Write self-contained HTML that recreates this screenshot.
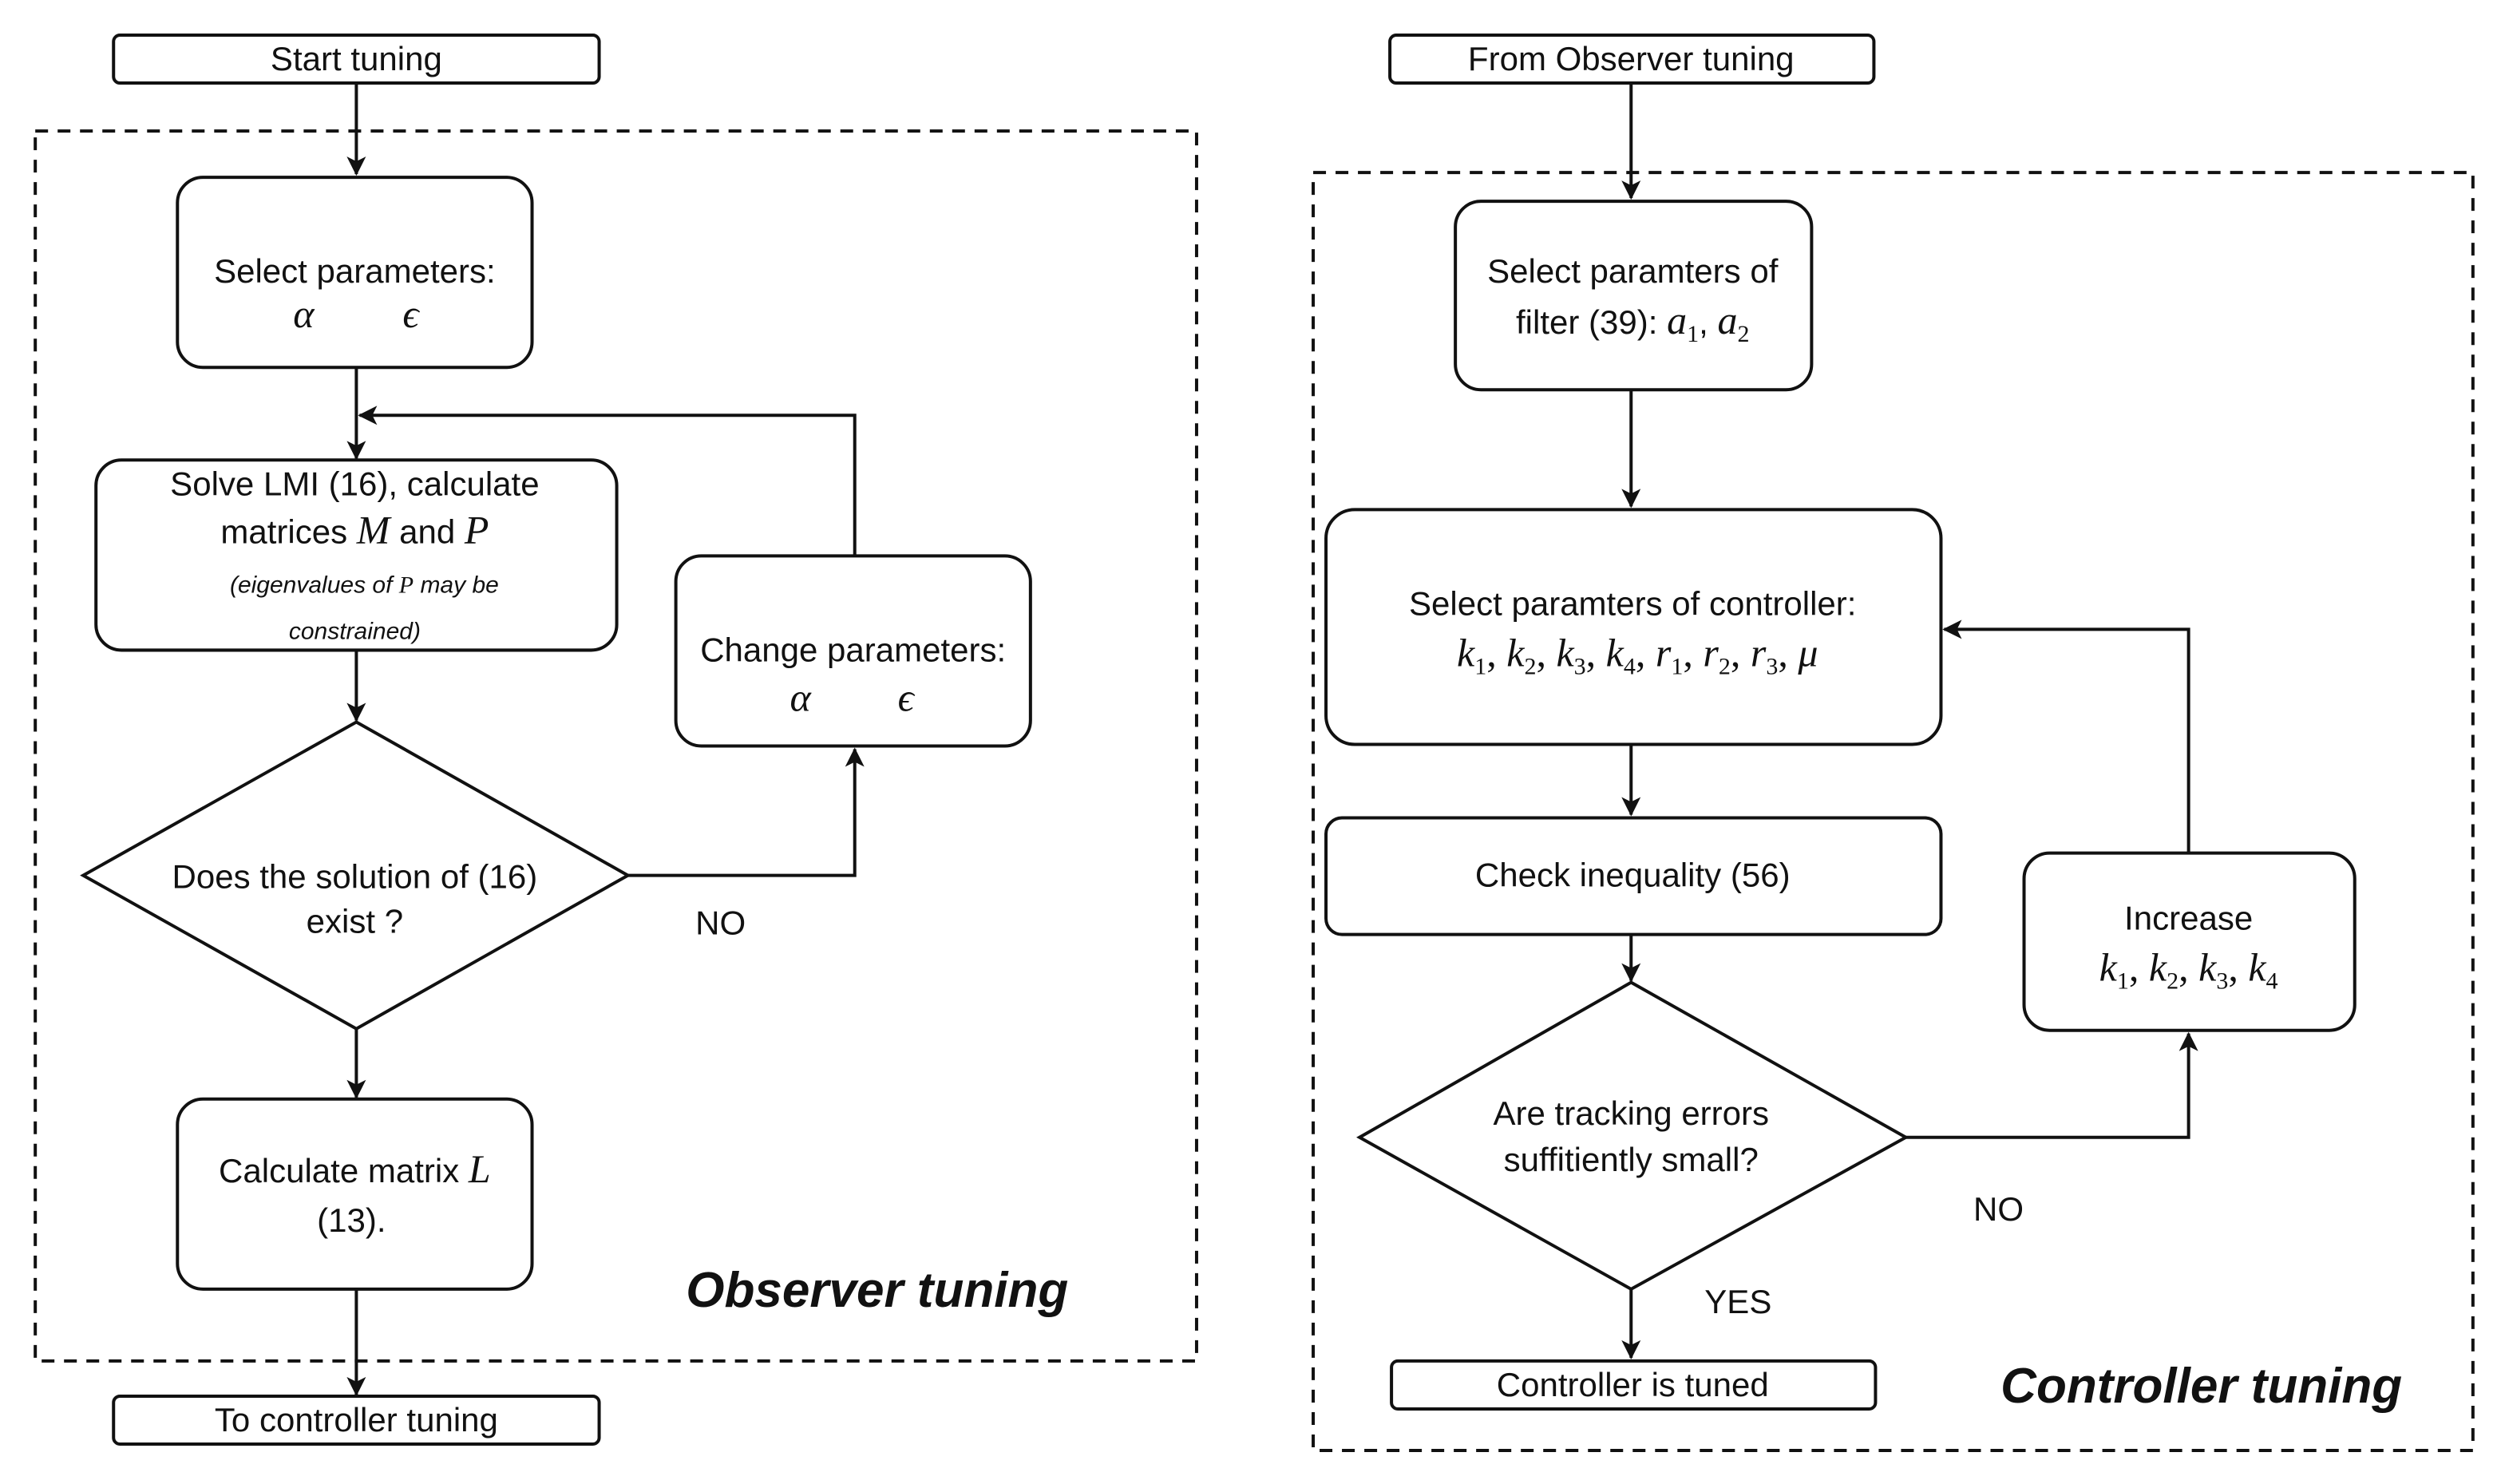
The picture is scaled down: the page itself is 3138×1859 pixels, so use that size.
<!DOCTYPE html>
<html><head><meta charset="utf-8"><style>
html,body{margin:0;padding:0;background:#fff;}
svg{display:block;}
text{font-family:"Liberation Sans",sans-serif;font-size:21px;fill:#111;}
.m{font-family:"Liberation Serif",serif;font-style:italic;font-size:25px;}
.s{font-size:15px;}
.t{font-weight:bold;font-style:italic;font-size:31px;}
</style></head><body>
<svg width="3138" height="1859" viewBox="0 0 1568 929" xmlns="http://www.w3.org/2000/svg">
<defs>
<marker id="a" viewBox="0 0 12 12" refX="11" refY="6" markerWidth="12" markerHeight="12" markerUnits="userSpaceOnUse" orient="auto">
<path d="M0,0 L12,6 L0,12 L3,6 Z" fill="#111"/></marker>
</defs>
<g fill="none" stroke="#111" stroke-width="2">
<rect x="22" y="82" width="727" height="770" stroke-dasharray="8,6"/>
<rect x="822" y="108" width="726" height="800" stroke-dasharray="8,6"/>
<rect x="71" y="22" width="304" height="30" rx="4"/>
<rect x="111" y="111" width="222" height="119" rx="16"/>
<rect x="60" y="288" width="326" height="119" rx="16"/>
<path d="M223,452 L393,548 L223,644 L52,548 Z"/>
<rect x="423" y="348" width="222" height="119" rx="16"/>
<rect x="111" y="688" width="222" height="119" rx="16"/>
<rect x="71" y="874" width="304" height="30" rx="4"/>
<path d="M223,52 V109" marker-end="url(#a)"/>
<path d="M223,230 V287" marker-end="url(#a)"/>
<path d="M223,407 V451" marker-end="url(#a)"/>
<path d="M223,644 V687" marker-end="url(#a)"/>
<path d="M223,807 V873" marker-end="url(#a)"/>
<path d="M393,548 H535 V469" marker-end="url(#a)"/>
<path d="M535,348 V260 H225" marker-end="url(#a)"/>

<rect x="870" y="22" width="303" height="30" rx="4"/>
<rect x="911" y="126" width="223" height="118" rx="16"/>
<rect x="830" y="319" width="385" height="147" rx="18"/>
<rect x="830" y="512" width="385" height="73" rx="10"/>
<path d="M1021,615 L1193,712 L1021,807 L851,712 Z"/>
<rect x="1267" y="534" width="207" height="111" rx="16"/>
<rect x="871" y="852" width="303" height="30" rx="4"/>
<path d="M1021,52 V124" marker-end="url(#a)"/>
<path d="M1021,244 V317" marker-end="url(#a)"/>
<path d="M1021,466 V510" marker-end="url(#a)"/>
<path d="M1021,585 V614" marker-end="url(#a)"/>
<path d="M1021,807 V850" marker-end="url(#a)"/>
<path d="M1193,712 H1370 V647" marker-end="url(#a)"/>
<path d="M1370,534 V394 H1217" marker-end="url(#a)"/>
</g>
<g text-anchor="middle">
<text x="223" y="44">Start tuning</text>
<text x="222" y="177" font-size="20">Select parameters:</text>
<text class="m" x="190" y="205">α</text><text class="m" x="257" y="205">ϵ</text>
<text x="222" y="310">Solve LMI  (16), calculate</text>
<text x="222" y="340">matrices <tspan class="m">M</tspan> and <tspan class="m">P</tspan></text>
<text x="228" y="371" class="s" font-style="italic">(eigenvalues of <tspan font-family="Liberation Serif">P</tspan> may be</text>
<text x="222" y="400" class="s" font-style="italic">constrained)</text>
<text x="222" y="556" font-size="20">Does the solution of (16)</text>
<text x="222" y="584" font-size="20">exist ?</text>
<text x="451" y="585" font-size="20">NO</text>
<text x="534" y="414" font-size="20">Change parameters:</text>
<text class="m" x="501" y="445">α</text><text class="m" x="567" y="445">ϵ</text>
<text x="222" y="740">Calculate matrix <tspan class="m" font-size="27">L</tspan></text>
<text x="220" y="771">(13).</text>
<text x="223" y="896">To controller tuning</text>
<text class="t" x="549" y="818">Observer tuning</text>

<text x="1021" y="44">From Observer tuning</text>
<text x="1022" y="177">Select paramters of</text>
<text x="1022" y="209">filter (39): <tspan class="m">a</tspan><tspan font-size="15" dy="5" font-family="Liberation Serif">1</tspan><tspan dy="-5">, </tspan><tspan class="m">a</tspan><tspan font-size="15" dy="5" font-family="Liberation Serif">2</tspan></text>
<text x="1022" y="385">Select paramters of controller:</text>
<text x="1025" y="417" class="m">k<tspan font-size="15" dy="5" font-style="normal">1</tspan><tspan dy="-5" font-style="normal">, </tspan>k<tspan font-size="15" dy="5" font-style="normal">2</tspan><tspan dy="-5" font-style="normal">, </tspan>k<tspan font-size="15" dy="5" font-style="normal">3</tspan><tspan dy="-5" font-style="normal">, </tspan>k<tspan font-size="15" dy="5" font-style="normal">4</tspan><tspan dy="-5" font-style="normal">, </tspan>r<tspan font-size="15" dy="5" font-style="normal">1</tspan><tspan dy="-5" font-style="normal">, </tspan>r<tspan font-size="15" dy="5" font-style="normal">2</tspan><tspan dy="-5" font-style="normal">, </tspan>r<tspan font-size="15" dy="5" font-style="normal">3</tspan><tspan dy="-5" font-style="normal">, </tspan>μ</text>
<text x="1022" y="555">Check inequality (56)</text>
<text x="1021" y="704" font-size="20">Are tracking errors</text>
<text x="1021" y="733" font-size="20">suffitiently small?</text>
<text x="1251" y="764" font-size="20">NO</text>
<text x="1088" y="822" font-size="20">YES</text>
<text x="1370" y="582">Increase</text>
<text x="1370" y="614" class="m">k<tspan font-size="15" dy="5" font-style="normal">1</tspan><tspan dy="-5" font-style="normal">, </tspan>k<tspan font-size="15" dy="5" font-style="normal">2</tspan><tspan dy="-5" font-style="normal">, </tspan>k<tspan font-size="15" dy="5" font-style="normal">3</tspan><tspan dy="-5" font-style="normal">, </tspan>k<tspan font-size="15" dy="5" font-style="normal">4</tspan></text>
<text x="1022" y="874">Controller is tuned</text>
<text class="t" x="1378" y="878">Controller tuning</text>
</g>
</svg>
</body></html>
